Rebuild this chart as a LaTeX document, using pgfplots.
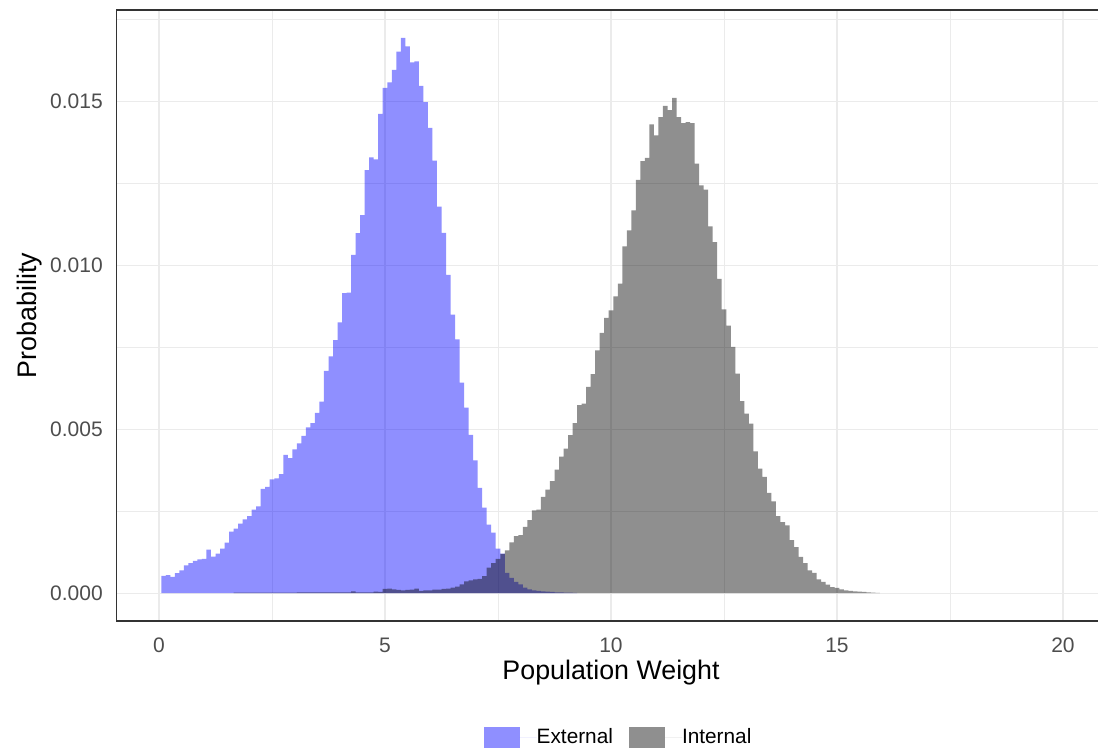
\documentclass[border=0pt]{standalone}
\usepackage{pgfplots}
\usepackage{pgfplotstable}
\pgfplotsset{compat=1.18}
\usepackage{fontspec}
\setmainfont{Liberation Sans}

\definecolor{gridgray}{HTML}{EBEBEB}
\definecolor{ticktext}{HTML}{4D4D4D}
\definecolor{frame}{HTML}{333333}

% Histogram bins (width 0.1): left bin edge, probability
\pgfplotstableread{
x y
0.05 0.00053
0.15 0.00055
0.25 0.00050
0.35 0.00061
0.45 0.00070
0.55 0.00085
0.65 0.00092
0.75 0.00099
0.85 0.00103
0.95 0.00105
1.05 0.00133
1.15 0.00112
1.25 0.00121
1.35 0.00136
1.45 0.00154
1.55 0.00188
1.65 0.00197
1.75 0.00212
1.85 0.00225
1.95 0.00235
2.05 0.00255
2.15 0.00265
2.25 0.00318
2.35 0.00324
2.45 0.00347
2.55 0.00350
2.65 0.00363
2.75 0.00422
2.85 0.00412
2.95 0.00439
3.05 0.00457
3.15 0.00480
3.25 0.00506
3.35 0.00519
3.45 0.00550
3.55 0.00584
3.65 0.00678
3.75 0.00722
3.85 0.00772
3.95 0.00826
4.05 0.00915
4.15 0.00917
4.25 0.01032
4.35 0.01098
4.45 0.01153
4.55 0.01290
4.65 0.01329
4.75 0.01323
4.85 0.01462
4.95 0.01541
5.05 0.01558
5.15 0.01596
5.25 0.01652
5.35 0.01694
5.45 0.01668
5.55 0.01619
5.65 0.01622
5.75 0.01547
5.85 0.01498
5.95 0.01419
6.05 0.01319
6.15 0.01179
6.25 0.01099
6.35 0.00971
6.45 0.00850
6.55 0.00774
6.65 0.00642
6.75 0.00566
6.85 0.00483
6.95 0.00405
7.05 0.00321
7.15 0.00261
7.25 0.00209
7.35 0.00185
7.45 0.00136
7.55 0.00121
7.65 0.00062
7.75 0.00047
7.85 0.00035
7.95 0.00027
8.05 0.00017
8.15 0.00012
8.25 0.00009
8.35 0.00007
8.45 0.00006
8.55 0.00005
8.65 0.00004
8.75 0.00003
8.85 0.00003
8.95 0.00002
9.05 0.00002
9.15 0.00001
9.25 0.00001
}\externaltbl

\pgfplotstableread{
x y
1.65 0.00002
1.75 0.00002
1.85 0.00002
1.95 0.00002
2.05 0.00002
2.15 0.00002
2.25 0.00002
2.35 0.00002
2.45 0.00002
2.55 0.00002
2.65 0.00002
2.75 0.00002
2.85 0.00002
2.95 0.00002
3.05 0.00003
3.15 0.00003
3.25 0.00003
3.35 0.00003
3.45 0.00003
3.55 0.00003
3.65 0.00003
3.75 0.00003
3.85 0.00003
3.95 0.00003
4.05 0.00003
4.15 0.00003
4.25 0.00006
4.35 0.00003
4.45 0.00003
4.55 0.00003
4.65 0.00003
4.75 0.00005
4.85 0.00004
4.95 0.00013
5.05 0.00014
5.15 0.00012
5.25 0.00010
5.35 0.00009
5.45 0.00010
5.55 0.00011
5.65 0.00014
5.75 0.00007
5.85 0.00009
5.95 0.00009
6.05 0.00011
6.15 0.00011
6.25 0.00013
6.35 0.00014
6.45 0.00017
6.55 0.00020
6.65 0.00027
6.75 0.00036
6.85 0.00039
6.95 0.00042
7.05 0.00044
7.15 0.00052
7.25 0.00078
7.35 0.00092
7.45 0.00105
7.55 0.00120
7.65 0.00131
7.75 0.00155
7.85 0.00174
7.95 0.00177
8.05 0.00202
8.15 0.00223
8.25 0.00253
8.35 0.00255
8.45 0.00294
8.55 0.00316
8.65 0.00342
8.75 0.00377
8.85 0.00417
8.95 0.00441
9.05 0.00482
9.15 0.00519
9.25 0.00574
9.35 0.00578
9.45 0.00629
9.55 0.00668
9.65 0.00741
9.75 0.00794
9.85 0.00840
9.95 0.00863
10.05 0.00905
10.15 0.00944
10.25 0.01058
10.35 0.01107
10.45 0.01168
10.55 0.01261
10.65 0.01318
10.75 0.01328
10.85 0.01430
10.95 0.01396
11.05 0.01452
11.15 0.01486
11.25 0.01473
11.35 0.01511
11.45 0.01452
11.55 0.01434
11.65 0.01437
11.75 0.01434
11.85 0.01310
11.95 0.01244
12.05 0.01231
12.15 0.01119
12.25 0.01071
12.35 0.00959
12.45 0.00866
12.55 0.00816
12.65 0.00751
12.75 0.00670
12.85 0.00586
12.95 0.00548
13.05 0.00517
13.15 0.00433
13.25 0.00380
13.35 0.00355
13.45 0.00306
13.55 0.00280
13.65 0.00235
13.75 0.00217
13.85 0.00207
13.95 0.00162
14.05 0.00141
14.15 0.00111
14.25 0.00092
14.35 0.00070
14.45 0.00062
14.55 0.00042
14.65 0.00035
14.75 0.00026
14.85 0.00019
14.95 0.00016
15.05 0.00012
15.15 0.00009
15.25 0.00007
15.35 0.00006
15.45 0.00005
15.55 0.00004
15.65 0.00003
15.75 0.00002
15.85 0.00001
15.95 0.00001
}\internaltbl

\begin{document}
\begin{tikzpicture}
\begin{axis}[
  scale only axis,
  width=494.7pt, height=305.5pt,
  xmin=-0.945, xmax=20.945,
  ymin=-0.000847, ymax=0.017787,
  xtick={0,5,10,15,20},
  xticklabels={0,5,10,15,20},
  minor xtick={2.5,7.5,12.5,17.5},
  ytick={0,0.005,0.01,0.015},
  yticklabels={0.000,0.005,0.010,0.015},
  minor ytick={0.0025,0.0075,0.0125,0.0175},
  scaled y ticks=false,
  /pgf/number format/assume math mode=true,
  grid=both,
  major grid style={draw=gridgray, line width=0.55pt},
  minor grid style={draw=gridgray, line width=0.3pt},
  tick style={draw=none},
  axis line style={draw=frame, line width=0.55pt},
  every tick label/.append style={font=\fontsize{10.5}{12}\selectfont, text=ticktext, inner sep=0pt},
  xticklabel style={yshift=-8.2pt},
  yticklabel style={xshift=-6.6pt},
  xlabel={Population Weight},
  ylabel={Probability},
  label style={font=\fontsize{13.4}{15}\selectfont},
  xlabel style={at={(axis description cs:0.5,-0.085)}, anchor=center},
  ylabel style={at={(axis description cs:-0.0875,0.5)}, anchor=center},
  legend columns=2,
  legend style={at={(axis description cs:0.5066,-0.19)}, anchor=center,
    draw=none, fill=none, font=\fontsize{10.4}{12}\selectfont,
    nodes={inner ysep=0pt, inner xsep=0pt},
    /tikz/every even column/.append style={column sep=8pt}},
  legend image code/.code={%
    \fill[#1] (0pt,-5.25pt) rectangle (18pt,5.25pt);
    \path (18pt,0pt) -- (26.5pt,0pt);},
]
\addplot[const plot, draw=none, fill=blue, fill opacity=0.44]
  table[x=x, y=y] {\externaltbl} \closedcycle;
\addlegendentry{External}
\addplot[const plot, draw=none, fill=black, fill opacity=0.44]
  table[x=x, y=y] {\internaltbl} \closedcycle;
\addlegendentry{Internal}
\end{axis}
\pgfresetboundingbox
\path[use as bounding box] (-58.15pt,-65pt) rectangle (490.85pt,310.5pt);
\end{tikzpicture}
\end{document}
